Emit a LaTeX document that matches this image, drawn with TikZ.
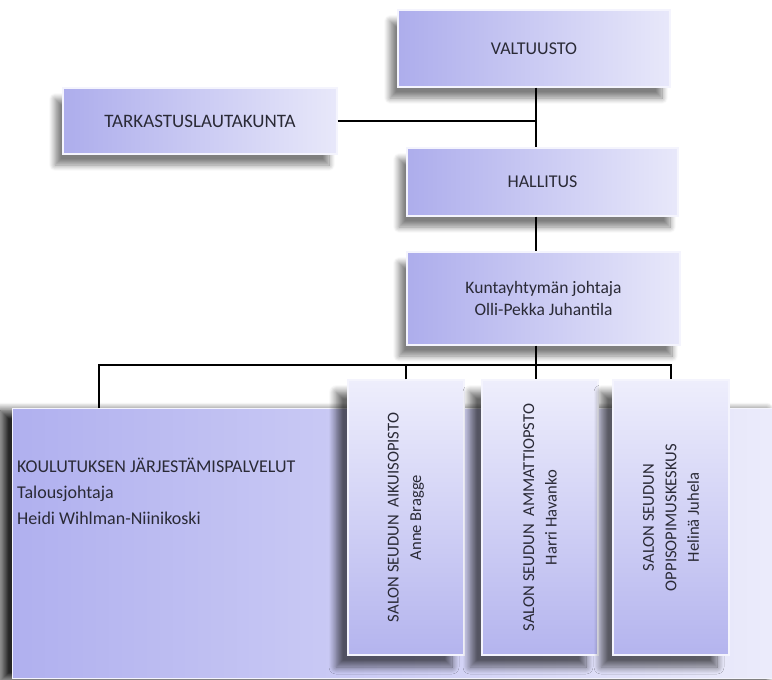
\documentclass[tikz,border=0pt]{standalone}
\usepackage{fontspec}
\setmainfont{Carlito}
\usetikzlibrary{shadows.blur}
\definecolor{hL}{HTML}{ADADEC}
\definecolor{hR}{HTML}{E8E8FA}
\definecolor{vT}{HTML}{EEEEFC}
\definecolor{vB}{HTML}{B4B4EE}
\definecolor{bL}{HTML}{B0B0EF}
\definecolor{bR}{HTML}{ECECFB}
\definecolor{edge}{HTML}{F4F4FD}
\definecolor{txt}{HTML}{2A2A36}
\begin{document}
\begin{tikzpicture}[x=1pt,y=-1pt,
  hbox/.style={rectangle, left color=hL, right color=hR, draw=edge, line width=1.2pt,
    text=txt, font=\fontsize{18}{22}\selectfont, align=center,
    blur shadow={shadow xshift=-8pt, shadow yshift=-11pt, shadow blur steps=10, shadow blur radius=6pt, shadow opacity=50}},
  vbox/.style={rectangle, top color=vT, bottom color=vB, draw=edge, line width=1.2pt,
    minimum width=116pt, minimum height=275pt,
    blur shadow={shadow xshift=-12pt, shadow yshift=-12pt, shadow blur steps=10, shadow blur radius=7pt, shadow opacity=60}},
  vtext/.style={rotate=90, align=center, text=txt, font=\fontsize{16.6}{22.5}\selectfont},
  bigbox/.style={rectangle, left color=bL, right color=bR, draw=edge, line width=1.2pt,
    blur shadow={shadow xshift=-12pt, shadow yshift=-2pt, shadow blur steps=12, shadow blur radius=8pt, shadow opacity=85}},
  conn/.style={draw=black, line width=1.8pt, line join=miter}]
\useasboundingbox (0,0) rectangle (772,680);

% large background box
\node[bigbox, minimum width=766pt, minimum height=270pt, anchor=north west] (kou) at (12,408) {};
\node[anchor=north west, align=left, text=txt, font=\fontsize{18}{26}\selectfont, inner sep=3pt] (kout) at (14,455)
  {KOULUTUKSEN JÄRJESTÄMISPALVELUT\\Talousjohtaja\\Heidi Wihlman-Niinikoski};

% vertical boxes
\node[vbox] (aik) at (406,517.5) {};
\node[vtext] (aikt) at (aik.center) {SALON SEUDUN\ \ AIKUISOPISTO\\Anne Bragge};
\node[vbox] (amm) at (540,517.5) {};
\node[vtext] (ammt) at (amm.center) {SALON SEUDUN\ \ AMMATTIOPSTO\\Harri Havanko};
\node[vbox] (opp) at (671,517.5) {};
\node[vtext] (oppt) at (opp.center) {SALON SEUDUN\\OPPISOPIMUSKESKUS\\Helinä Juhela};

% upper boxes
\node[hbox, minimum width=272pt, minimum height=77pt] (valt) at (534,48.5) {VALTUUSTO};
\node[hbox, minimum width=274pt, minimum height=66pt, font=\fontsize{19}{22}\selectfont] (tark) at (200,121) {TARKASTUSLAUTAKUNTA};
\node[hbox, minimum width=271pt, minimum height=68pt] (hall) at (542.5,182) {HALLITUS};
\node[hbox, minimum width=273pt, minimum height=93pt, font=\fontsize{17.5}{21.5}\selectfont] (kunta) at (543.5,298.5) {\raisebox{-3pt}{\parbox{200pt}{\centering Kuntayhtymän johtaja\\Olli-Pekka Juhantila}}};

% connectors
\coordinate (sp) at (536,0);
\coordinate (bus) at (0,365);
\coordinate (k1) at (99,0);
\draw[conn] (sp |- valt.south) -- (sp |- hall.north);
\draw[conn] (tark.east) -- (sp |- tark.east);
\draw[conn] (sp |- hall.south) -- (sp |- kunta.north);
\draw[conn] (sp |- kunta.south) -- (sp |- amm.north);
\draw[conn] (k1 |- kou.north) |- (opp.north |- bus) -- (opp.north);
\draw[conn] (aik.north) -- (aik.north |- bus);
\end{tikzpicture}
\end{document}
